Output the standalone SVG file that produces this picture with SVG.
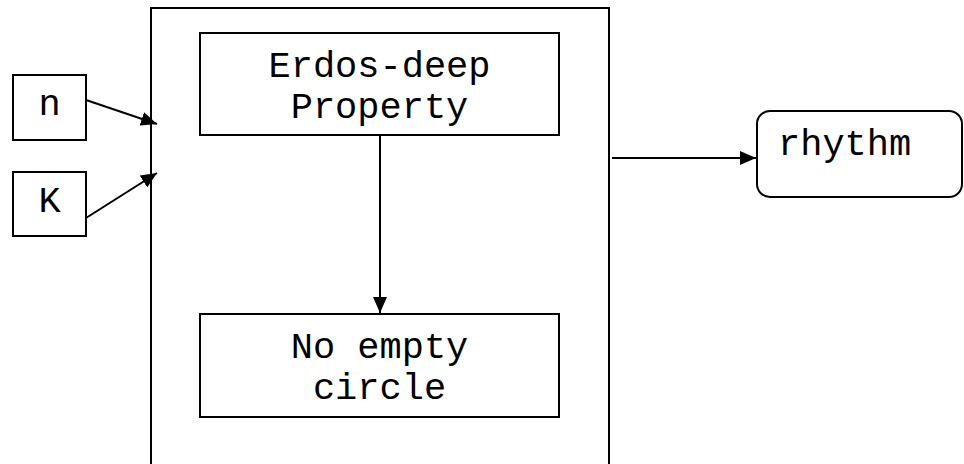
<svg xmlns="http://www.w3.org/2000/svg" width="964" height="464" viewBox="0 0 964 464">
  <style>
    .box { fill: #ffffff; stroke: #000000; stroke-width: 2; }
    .edge { fill: none; stroke: #000000; stroke-width: 2; }
    .label { font-family: "Liberation Mono", "Courier New", monospace; font-size: 37px; fill: #000000; }
    .mid { text-anchor: middle; }
  </style>
  <defs>
    <marker id="arrow" markerUnits="userSpaceOnUse" markerWidth="16" markerHeight="14" refX="16" refY="7" orient="auto">
      <path d="M0,0 L16,7 L0,14 z" fill="#000000"/>
    </marker>
  </defs>
  <rect width="964" height="464" fill="#ffffff"/>

  <!-- enclosing process frame (open at the bottom edge) -->
  <g id="frame">
    <rect class="box" x="151" y="8" width="458" height="480"/>
  </g>

  <g id="node-n">
    <rect class="box" x="13" y="75" width="73" height="65"/>
    <text class="label mid" x="49.5" y="115">n</text>
  </g>

  <g id="node-k">
    <rect class="box" x="13" y="172" width="73" height="64"/>
    <text class="label mid" x="49.5" y="212">K</text>
  </g>

  <g id="node-erdos">
    <rect class="box" x="200" y="33" width="359" height="102"/>
    <text class="label mid" x="379.5" y="77">Erdos-deep</text>
    <text class="label mid" x="379.5" y="118">Property</text>
  </g>

  <g id="node-circle">
    <rect class="box" x="200" y="314" width="359" height="103"/>
    <text class="label mid" x="379.5" y="358">No empty</text>
    <text class="label mid" x="379.5" y="399">circle</text>
  </g>

  <g id="node-rhythm">
    <rect class="box" x="757" y="111" width="205" height="86" rx="13" ry="13"/>
    <text class="label" x="778" y="155">rhythm</text>
  </g>

  <g id="connectors">
    <line class="edge" x1="86" y1="100" x2="157" y2="124" marker-end="url(#arrow)"/>
    <line class="edge" x1="86" y1="218" x2="157" y2="173" marker-end="url(#arrow)"/>
    <line class="edge" x1="380" y1="135" x2="380" y2="313" marker-end="url(#arrow)"/>
    <line class="edge" x1="612" y1="158" x2="756" y2="158" marker-end="url(#arrow)"/>
  </g>
</svg>
